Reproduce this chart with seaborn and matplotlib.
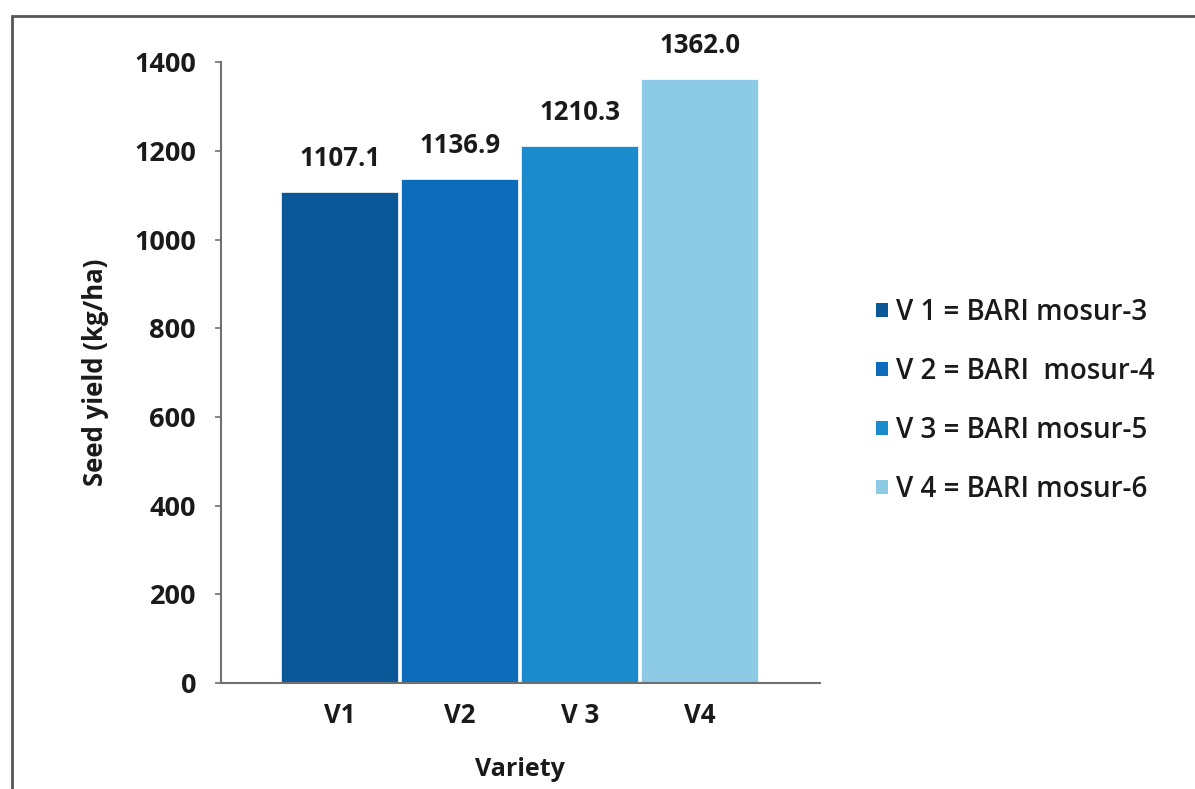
import matplotlib
matplotlib.use("Agg")
import matplotlib.pyplot as plt
import seaborn as sns
import pandas as pd
from matplotlib.patches import Rectangle, Patch

varieties = ["V1", "V2", "V 3", "V4"]
seed_yield = [1107.1, 1136.9, 1210.3, 1362.0]
legend_labels = ["V 1 = BARI mosur-3", "V 2 = BARI  mosur-4",
                 "V 3 = BARI mosur-5", "V 4 = BARI mosur-6"]
bar_colors = ["#0b5898", "#0c6cba", "#1a8ccd", "#8ccae6"]

sns.set_theme(style="white")
plt.rcParams["font.family"] = ["Open Sans", "DejaVu Sans"]

df = pd.DataFrame({"Variety": varieties, "Yield": seed_yield, "Name": legend_labels})

fig = plt.figure(figsize=(11.95, 7.89), dpi=100)
ax = fig.add_axes([0.185, 0.1343, 0.501, 0.787])

sns.barplot(data=df, x="Variety", y="Yield", hue="Name", palette=bar_colors,
            dodge=False, width=0.985, saturation=1, edgecolor="white",
            linewidth=1.2, legend=False, ax=ax)

ax.set_xlim(-0.99, 4.0)
ax.set_ylim(0, 1400)
ax.set_yticks(range(0, 1401, 200))

for i, v in enumerate(seed_yield):
    ax.text(i, v + 45, f"{v:.1f}", ha="center", va="bottom",
            fontsize=18.5, fontweight="bold", color="#1a1a1a")

for side in ("top", "right"):
    ax.spines[side].set_visible(False)
for side in ("left", "bottom"):
    ax.spines[side].set_color("#707070")
    ax.spines[side].set_linewidth(1.5)

ax.tick_params(axis="y", which="major", direction="out", length=4, width=1.2,
               color="#707070", left=True, labelsize=19.5, pad=14)
ax.tick_params(axis="x", length=0, labelsize=18.5, pad=14)
for lbl in ax.get_xticklabels() + ax.get_yticklabels():
    lbl.set_fontweight("bold")
    lbl.set_color("#1a1a1a")

ax.set_xlabel("Variety", fontsize=18, fontweight="bold", color="#1a1a1a", labelpad=20)
ax.set_ylabel("Seed yield (kg/ha)", fontsize=18.5, fontweight="bold", color="#1a1a1a", labelpad=18)

handles = [Patch(facecolor=c, edgecolor="none") for c in bar_colors]
fig.legend(handles, legend_labels, loc="center left", bbox_to_anchor=(0.712, 0.492),
           frameon=False, prop={"size": 20, "weight": "semibold"},
           handlelength=0.42, handleheight=0.42, handletextpad=0.32,
           labelspacing=1.08, labelcolor="#1a1a1a")

# outer frame around the figure
fig.add_artist(Rectangle((0.010, -0.05), 1.2, 1.03, transform=fig.transFigure,
                         fill=False, edgecolor="#555555", linewidth=2.0))

fig.savefig("out.png", dpi=100, facecolor="white")
